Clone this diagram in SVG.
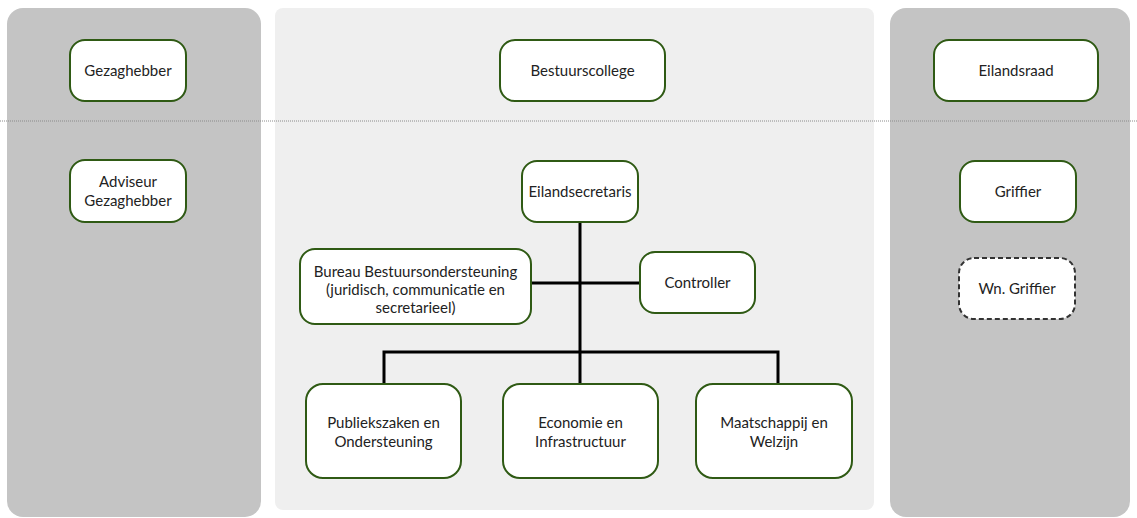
<svg xmlns="http://www.w3.org/2000/svg" width="1137" height="518" viewBox="0 0 1137 518">
<style>
.panel-side{fill:#c4c4c4}
.panel-mid{fill:#efefef}
.node rect{fill:#ffffff;stroke:#2f5a14;stroke-width:2}
.node.dashed rect{stroke:#333;stroke-dasharray:5,3}
.node text{font-family:Lato,"Open Sans","Liberation Sans",sans-serif;font-size:15px;fill:#222;text-anchor:middle}
.conn{stroke:#000;stroke-width:3;fill:none}
.sep{stroke:#8a8a8a;stroke-width:1;stroke-dasharray:1,1}
</style>
<rect x="0" y="0" width="1137" height="518" fill="#ffffff"/>
<g id="panels">
<rect class="panel-side" x="7" y="8" width="254" height="509" rx="16"/>
<rect class="panel-mid" x="275" y="8" width="599" height="502" rx="8"/>
<rect class="panel-side" x="890" y="8" width="240" height="509" rx="16"/>
</g>
<line class="sep" x1="0" y1="121" x2="1137" y2="121"/>
<g id="connectors">
<line class="conn" x1="580" y1="222" x2="580" y2="384"/>
<line class="conn" x1="531" y1="283" x2="640" y2="283"/>
<polyline class="conn" points="384,384 384,352 778,352 778,384"/>
</g>
<g id="gezaghebber" class="node"><rect x="70" y="40" width="116" height="61" rx="15"/><text x="128" y="76">Gezaghebber</text></g>
<g id="bestuurscollege" class="node"><rect x="500" y="40" width="165" height="61" rx="15"/><text x="582.5" y="76">Bestuurscollege</text></g>
<g id="eilandsraad" class="node"><rect x="934" y="40" width="164" height="61" rx="15"/><text x="1016" y="76">Eilandsraad</text></g>
<g id="adviseur" class="node"><rect x="70" y="160" width="116" height="62" rx="15"/><text x="128" y="187">Adviseur</text><text x="128" y="206">Gezaghebber</text></g>
<g id="eilandsecretaris" class="node"><rect x="522" y="161" width="116" height="61" rx="15"/><text x="580" y="197">Eilandsecretaris</text></g>
<g id="bureau" class="node"><rect x="300" y="249" width="231" height="75" rx="15"/><text x="415.5" y="277">Bureau Bestuursondersteuning</text><text x="415.5" y="295">(juridisch, communicatie en</text><text x="415.5" y="313">secretarieel)</text></g>
<g id="controller" class="node"><rect x="640" y="252" width="115" height="61" rx="15"/><text x="697.5" y="288">Controller</text></g>
<g id="griffier" class="node"><rect x="960" y="161" width="116" height="61" rx="15"/><text x="1018" y="197">Griffier</text></g>
<g id="wn-griffier" class="node dashed"><rect x="959" y="258" width="116" height="61" rx="15"/><text x="1017" y="294">Wn. Griffier</text></g>
<g id="publiekszaken" class="node"><rect x="306" y="384" width="155" height="94" rx="17"/><text x="383.5" y="428">Publiekszaken en</text><text x="383.5" y="447">Ondersteuning</text></g>
<g id="economie" class="node"><rect x="503" y="384" width="155" height="94" rx="17"/><text x="580.5" y="428">Economie en</text><text x="580.5" y="447">Infrastructuur</text></g>
<g id="maatschappij" class="node"><rect x="696" y="384" width="156" height="94" rx="17"/><text x="774" y="428">Maatschappij en</text><text x="774" y="447">Welzijn</text></g>
</svg>
